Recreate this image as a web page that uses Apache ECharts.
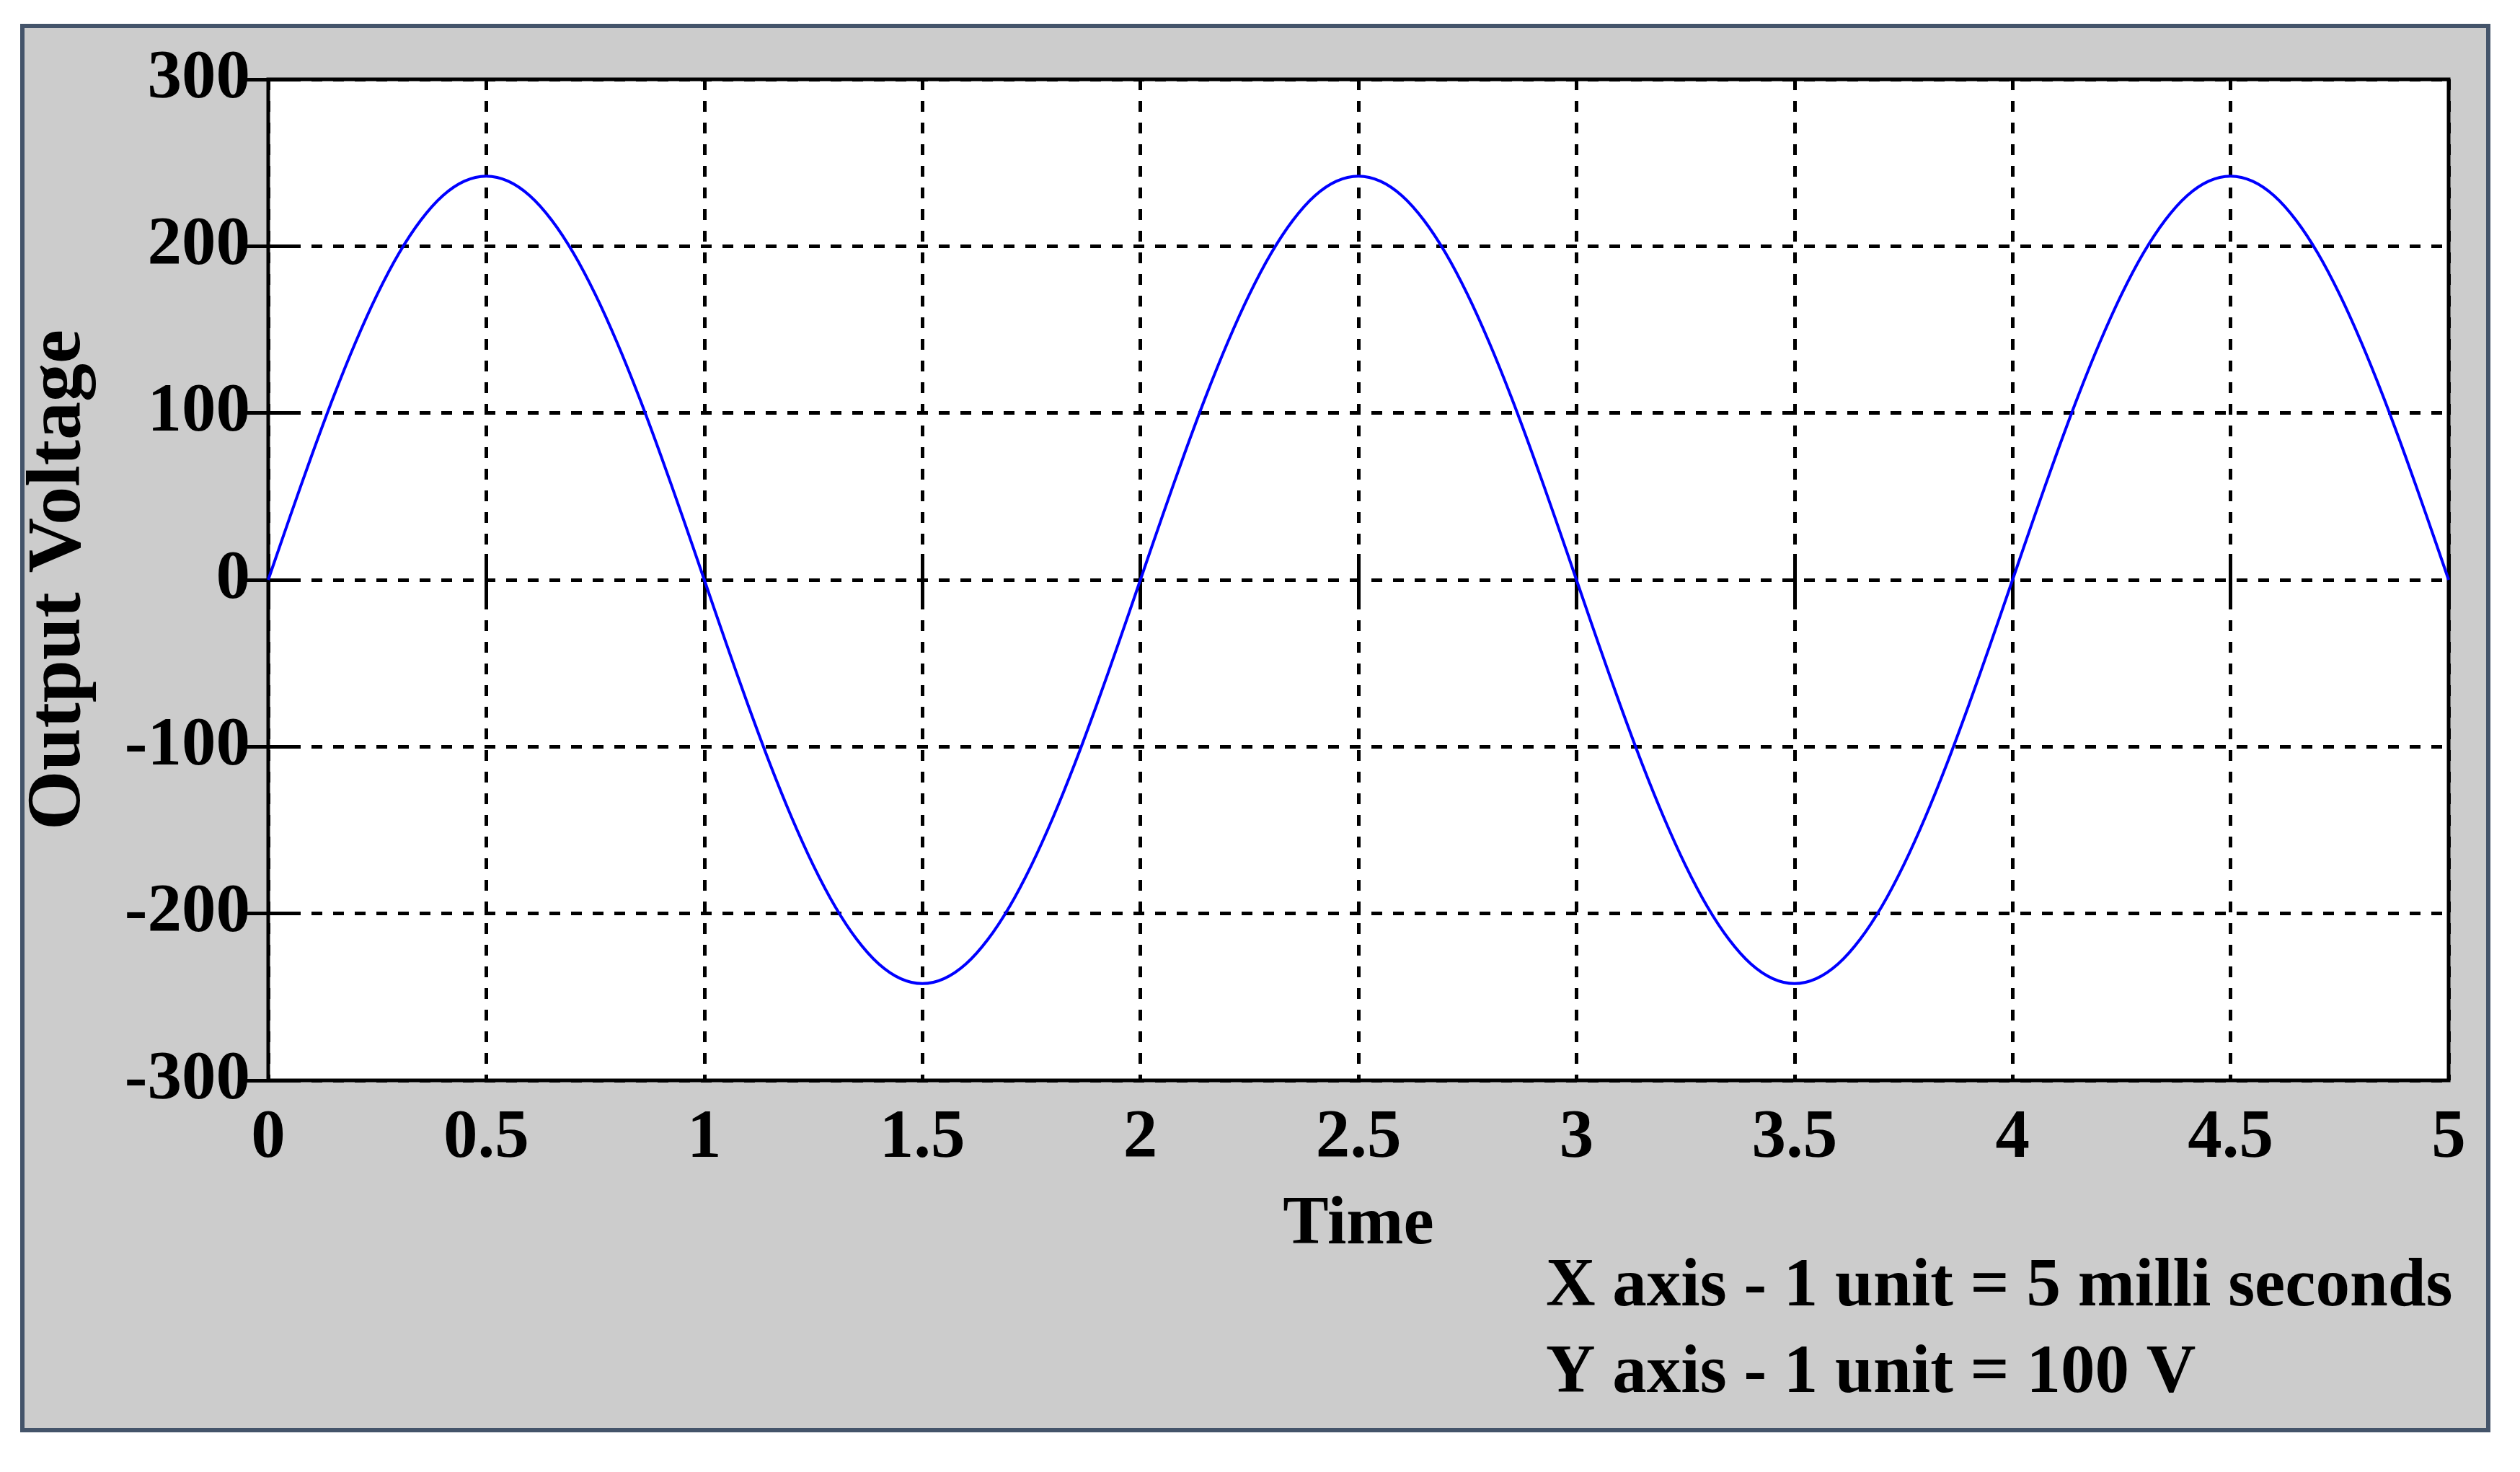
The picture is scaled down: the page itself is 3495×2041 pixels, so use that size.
<!DOCTYPE html>
<html>
<head>
<meta charset="utf-8">
<script src="https://cdn.jsdelivr.net/npm/echarts@6/dist/echarts.min.js"></script>
<style>
html,body{margin:0;padding:0;background:#fff;}
#chart{width:3495px;height:2041px;}
</style>
</head>
<body>
<div id="chart"></div>
<script>
// Time (units, 1 unit = 5 ms), sampled every 0.05
const times = [0,0.05,0.1,0.15,0.2,0.25,0.3,0.35,0.4,0.45,0.5,0.55,0.6,0.65,0.7,0.75,0.8,0.85,0.9,0.95,
  1,1.05,1.1,1.15,1.2,1.25,1.3,1.35,1.4,1.45,1.5,1.55,1.6,1.65,1.7,1.75,1.8,1.85,1.9,1.95,
  2,2.05,2.1,2.15,2.2,2.25,2.3,2.35,2.4,2.45,2.5,2.55,2.6,2.65,2.7,2.75,2.8,2.85,2.9,2.95,
  3,3.05,3.1,3.15,3.2,3.25,3.3,3.35,3.4,3.45,3.5,3.55,3.6,3.65,3.7,3.75,3.8,3.85,3.9,3.95,
  4,4.05,4.1,4.15,4.2,4.25,4.3,4.35,4.4,4.45,4.5,4.55,4.6,4.65,4.7,4.75,4.8,4.85,4.9,4.95,5];
// Output voltage
const voltages = [0,37.9,74.8,109.9,142.2,171.1,195.8,215.6,230.2,239,242,239,230.2,215.6,195.8,171.1,142.2,109.9,74.8,37.9,
  0,-37.9,-74.8,-109.9,-142.2,-171.1,-195.8,-215.6,-230.2,-239,-242,-239,-230.2,-215.6,-195.8,-171.1,-142.2,-109.9,-74.8,-37.9,
  0,37.9,74.8,109.9,142.2,171.1,195.8,215.6,230.2,239,242,239,230.2,215.6,195.8,171.1,142.2,109.9,74.8,37.9,
  0,-37.9,-74.8,-109.9,-142.2,-171.1,-195.8,-215.6,-230.2,-239,-242,-239,-230.2,-215.6,-195.8,-171.1,-142.2,-109.9,-74.8,-37.9,
  0,37.9,74.8,109.9,142.2,171.1,195.8,215.6,230.2,239,242,239,230.2,215.6,195.8,171.1,142.2,109.9,74.8,37.9,0];
const xTitle = 'Time';
const yTitle = 'Output Voltage';
const notes = ['X axis - 1 unit = 5 milli seconds', 'Y axis - 1 unit = 100 V'];

const FONT = '"Liberation Serif", "Times New Roman", serif';
const data = times.map((t, i) => [t, voltages[i]]);

const chart = echarts.init(document.getElementById('chart'), null, {renderer: 'canvas'});
const tickStyle = {show: true, inside: true, length: 36, lineStyle: {color: '#000', width: 5}};
const gridLine = {show: true, lineStyle: {color: '#000', width: 5, type: [15, 15]}};
const labelStyle = {color: '#000', fontFamily: FONT, fontWeight: 'bold', fontSize: 95};

chart.setOption({
  backgroundColor: '#fff',
  animation: false,
  graphic: [
    {type: 'rect', z: -10, shape: {x: 31, y: 36, width: 3420, height: 1947},
     style: {fill: '#cccccc', stroke: '#44546a', lineWidth: 6}},
    {type: 'text', left: 2144, top: 1779 - 41, z: 10,
     style: {text: notes[0], font: 'bold 95px ' + FONT, fill: '#000'}},
    {type: 'text', left: 2144, top: 1899 - 41, z: 10,
     style: {text: notes[1], font: 'bold 95px ' + FONT, fill: '#000'}}
  ],
  grid: {left: 372, right: 99, top: 110, bottom: 543, show: true,
         backgroundColor: '#fff', borderColor: '#000', borderWidth: 5, containLabel: false},
  xAxis: [
    {type: 'value', min: 0, max: 5, interval: 0.5, position: 'bottom',
     name: xTitle, nameLocation: 'middle', nameGap: 154,
     nameTextStyle: labelStyle,
     axisLine: {show: false}, axisTick: tickStyle,
     axisLabel: Object.assign({margin: 34}, labelStyle),
     splitLine: gridLine},
    {type: 'value', min: 0, max: 5, interval: 0.5, position: 'top',
     axisLine: {show: false}, axisTick: tickStyle, axisLabel: {show: false}, splitLine: {show: false}}
  ],
  yAxis: [
    {type: 'value', min: -300, max: 300, interval: 100, position: 'left',
     name: yTitle, nameLocation: 'middle', nameGap: 236,
     nameTextStyle: Object.assign({}, labelStyle, {fontSize: 106}),
     axisLine: {show: false}, axisTick: tickStyle,
     axisLabel: Object.assign({margin: 25}, labelStyle),
     splitLine: gridLine},
    {type: 'value', min: -300, max: 300, interval: 100, position: 'right',
     axisLine: {show: false}, axisTick: tickStyle, axisLabel: {show: false}, splitLine: {show: false}}
  ],
  series: [{
    type: 'line', xAxisIndex: 0, yAxisIndex: 0, data: data, smooth: 0.3,
    showSymbol: false, lineStyle: {color: '#0000ff', width: 4}, z: 5
  }]
});
</script>
</body>
</html>
